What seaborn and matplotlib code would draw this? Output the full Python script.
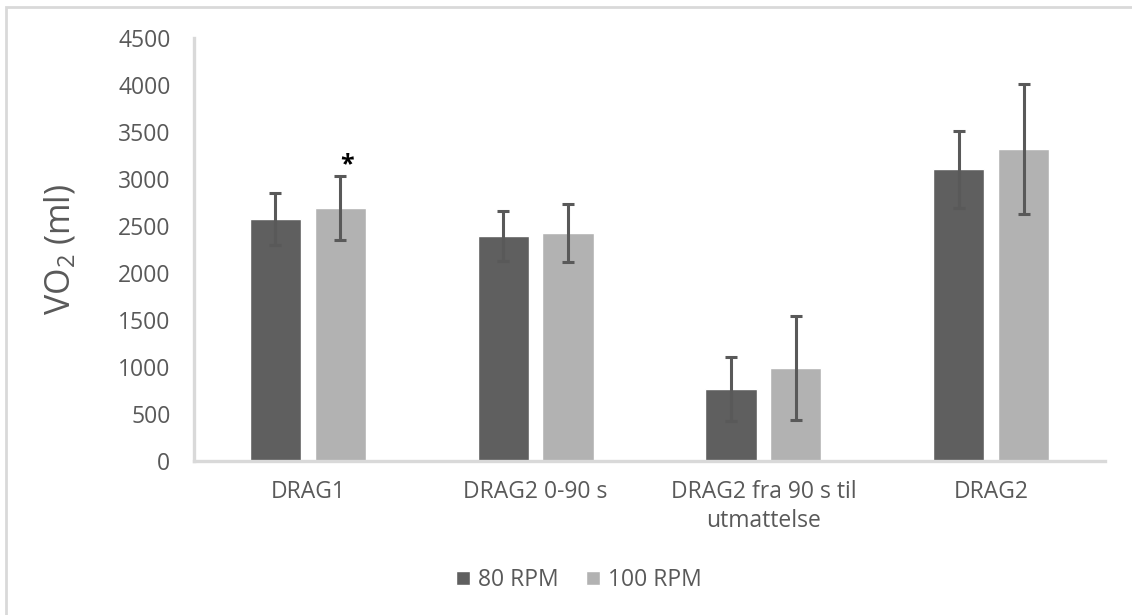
import matplotlib
matplotlib.use("Agg")
import matplotlib.pyplot as plt
from matplotlib.patches import Rectangle
import seaborn as sns
import pandas as pd

# Oxygen uptake per test phase at two cadences (mean ± SD)
categories = ["DRAG1", "DRAG2 0-90 s", "DRAG2 fra 90 s til\nutmattelse", "DRAG2"]
series = ["80 RPM", "100 RPM"]
vo2_80 = [2578, 2397, 763, 3103]
vo2_100 = [2691, 2426, 989, 3316]
sd_80 = [277, 267, 340, 412]
sd_100 = [337, 312, 550, 690]
y_ticks = [0, 500, 1000, 1500, 2000, 2500, 3000, 3500, 4000, 4500]

df = pd.DataFrame({
    "fase": categories * 2,
    "kadens": [series[0]] * 4 + [series[1]] * 4,
    "vo2": vo2_80 + vo2_100,
})
errors = {series[0]: sd_80, series[1]: sd_100}

sns.set_theme(style="white")
plt.rcParams["font.family"] = ["Open Sans", "DejaVu Sans"]
plt.rcParams["mathtext.fontset"] = "custom"
plt.rcParams["mathtext.rm"] = "Open Sans"
plt.rcParams["mathtext.it"] = "Open Sans:italic"

text_grey = "#595959"
line_grey = "#d9d9d9"
label_size = 16.5

fig = plt.figure(figsize=(11.32, 6.15), dpi=100)
ax = fig.add_axes([194 / 1132, 1 - 461 / 615, 911 / 1132, 423 / 615])

sns.barplot(
    data=df, x="fase", y="vo2", hue="kadens",
    order=categories, hue_order=series,
    palette=["#5f5f5f", "#b2b2b2"],
    width=0.57, gap=0.21, saturation=1, errorbar=None,
    ax=ax, legend=True,
)

# standard deviation whiskers on each bar
for level, container in zip(series, ax.containers):
    xs = [p.get_x() + p.get_width() / 2 for p in container.patches]
    ys = [p.get_height() for p in container.patches]
    ax.errorbar(xs, ys, yerr=errors[level], fmt="none", ecolor=text_grey,
                elinewidth=2.2, capsize=4.6, capthick=2.2, zorder=3)

# significance marker above DRAG1, 100 RPM
p = ax.containers[1].patches[0]
ax.annotate("*", xy=(p.get_x() + p.get_width() / 2, vo2_100[0] + sd_100[0]),
            xytext=(5, 4), textcoords="offset points",
            ha="center", va="baseline", fontsize=18, fontweight="bold",
            color="black")

ax.set_xlim(-0.5, 3.5)
ax.set_ylim(0, 4500)
ax.set_yticks(y_ticks)
ax.set_yticklabels([str(v) for v in y_ticks])
ax.set_xlabel("")
ax.set_ylabel("VO$_2$ (ml)", fontsize=24.5, color=text_grey)
ax.yaxis.set_label_coords(-0.127, 0.5)

ax.tick_params(axis="y", length=0, pad=17, labelsize=label_size, labelcolor=text_grey)
ax.tick_params(axis="x", length=0, pad=14, labelsize=label_size, labelcolor=text_grey)
for lbl in ax.get_xticklabels():
    lbl.set_linespacing(1.25)

for side in ("top", "right"):
    ax.spines[side].set_visible(False)
for side in ("left", "bottom"):
    ax.spines[side].set_color(line_grey)
    ax.spines[side].set_linewidth(2.4)

sns.move_legend(ax, "center", bbox_to_anchor=(579 / 1132, 1 - 580 / 615),
                bbox_transform=fig.transFigure, ncol=2, frameon=False,
                title=None, fontsize=label_size, handlelength=0.6, handleheight=0.6,
                handletextpad=0.35, columnspacing=1.2)
for t in ax.get_legend().get_texts():
    t.set_color(text_grey)

# chart-area frame (top and left edges visible)
fig.patches.append(Rectangle((6 / 1132, -0.1), 1.2, 1 - 7 / 615 + 0.1,
                             transform=fig.transFigure, fill=False,
                             edgecolor=line_grey, linewidth=2, zorder=0))

fig.savefig("out.png", dpi=100, facecolor="white")
